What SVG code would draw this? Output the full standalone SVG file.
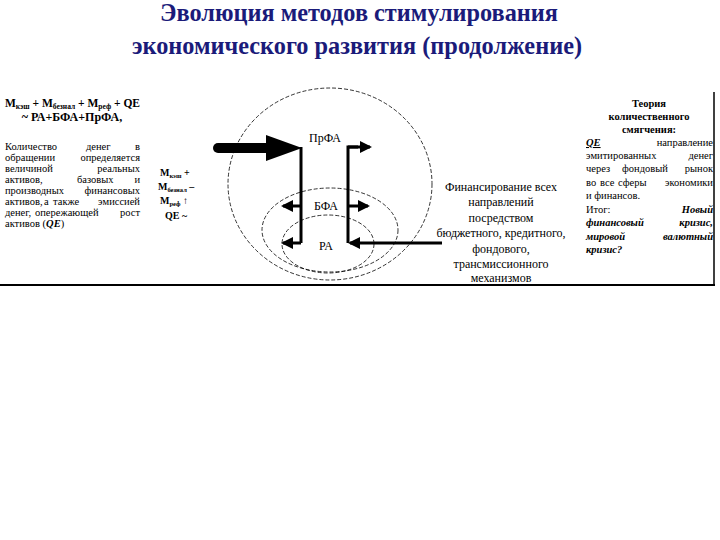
<svg xmlns="http://www.w3.org/2000/svg" width="720" height="540" viewBox="0 0 720 540" font-family="'Liberation Serif', 'Times New Roman', serif">
<defs>
<style>
text{font-family:'Liberation Serif','Times New Roman',serif;fill:#000}
.title{font-weight:bold;font-size:24.3px;fill:#1b1b7a;text-anchor:middle}
.p{font-size:10.5px}
.b{font-weight:bold}
.bi{font-weight:bold;font-style:italic}
.c{text-anchor:middle}
.dash{fill:none;stroke:#000;stroke-width:0.8;stroke-dasharray:4 2}
.ln{fill:none;stroke:#000;stroke-width:3}
.ar{fill:none;stroke:#000;stroke-width:3;marker-end:url(#ah)}
</style>
<marker id="ah" viewBox="0 0 12 12" refX="10" refY="6" markerWidth="12" markerHeight="12" markerUnits="userSpaceOnUse" orient="auto">
<path d="M0,0 L12,6 L0,12 z" fill="#000"/>
</marker>
</defs>
<rect width="720" height="540" fill="#fff"/>

<g id="title">
<text class="title" x="359" y="21">Эволюция методов стимулирования</text>
<text class="title" x="357" y="54">экономического развития (продолжение)</text>
</g>

<g id="frame">
<line x1="0" y1="285" x2="715" y2="285" stroke="#000" stroke-width="2"/>
<line x1="714" y1="92" x2="714" y2="285" stroke="#000" stroke-width="1.5"/>
</g>

<g id="formula">
<text class="b" x="5" y="107" font-size="11.5">M<tspan font-size="7.5" dy="2">кэш</tspan><tspan dy="-2"> + M</tspan><tspan font-size="7.5" dy="2">безнал</tspan><tspan dy="-2"> + M</tspan><tspan font-size="7.5" dy="2">реф</tspan><tspan dy="-2"> + QE</tspan></text>
<text class="b c" x="72" y="121" font-size="12">~ РА+БФА+ПрФА,</text>
</g>

<g id="left-paragraph">
<text class="p" y="150"><tspan x="5">Количество</tspan><tspan x="86">денег</tspan><tspan x="140" text-anchor="end">в</tspan></text>
<text class="p" y="161"><tspan x="5">обращении</tspan><tspan x="140" text-anchor="end">определяется</tspan></text>
<text class="p" y="172"><tspan x="5">величиной</tspan><tspan x="140" text-anchor="end">реальных</tspan></text>
<text class="p" y="183"><tspan x="5">активов,</tspan><tspan x="77">базовых</tspan><tspan x="140" text-anchor="end">и</tspan></text>
<text class="p" y="194"><tspan x="5">производных</tspan><tspan x="140" text-anchor="end">финансовых</tspan></text>
<text class="p" y="205"><tspan x="5">активов,</tspan><tspan x="44">а</tspan><tspan x="53">также</tspan><tspan x="140" text-anchor="end">эмиссией</tspan></text>
<text class="p" y="216"><tspan x="5">денег,</tspan><tspan x="35">опережающей</tspan><tspan x="140" text-anchor="end">рост</tspan></text>
<text class="p" y="227"><tspan x="5">активов (</tspan><tspan class="bi">QE</tspan><tspan>)</tspan></text>
</g>

<g id="money-label">
<text class="b" x="160" y="176" font-size="10">M<tspan font-size="6.5" dy="2">кэш</tspan><tspan dy="-2"> +</tspan></text>
<text class="b" x="158" y="190" font-size="10">M<tspan font-size="6.5" dy="2">безнал</tspan><tspan dy="-2"> –</tspan></text>
<text class="b" x="160" y="204" font-size="10">M<tspan font-size="6.5" dy="2">реф</tspan><tspan dy="-2"> ↑</tspan></text>
<text class="b" x="165" y="219" font-size="10">QE ~</text>
</g>

<g id="circle-PrFA">
<ellipse class="dash" cx="330" cy="184" rx="102" ry="96"/>
<text class="c" x="325" y="142" font-size="12">ПрФА</text>
</g>
<g id="ellipse-BFA">
<ellipse class="dash" cx="330" cy="230" rx="68" ry="42"/>
<text class="c" x="326" y="210" font-size="12">БФА</text>
</g>
<g id="ellipse-RA">
<ellipse class="dash" cx="328" cy="244" rx="46" ry="29"/>
<text class="c" x="326" y="250" font-size="12">РА</text>
</g>

<g id="connectors">
<line x1="218" y1="148" x2="272" y2="148" stroke="#000" stroke-width="10" stroke-linecap="round"/>
<polygon points="266,135 302,148 266,161" fill="#000"/>
<polyline class="ln" points="301,147 301,243"/>
<polyline class="ln" points="348,243 348,147 358,147"/>
<line class="ar" x1="348" y1="147" x2="370" y2="147"/>
<line class="ar" x1="301" y1="206" x2="283" y2="206"/>
<line class="ar" x1="348" y1="206" x2="368" y2="206"/>
<line class="ar" x1="301" y1="243" x2="283" y2="243"/>
<line class="ar" x1="442" y1="243" x2="350" y2="243"/>
</g>

<g id="financing-text">
<text class="c" x="501" y="191" font-size="12">Финансирование всех</text>
<text class="c" x="501" y="206" font-size="12">направлений</text>
<text class="c" x="501" y="222" font-size="12">посредством</text>
<text class="c" x="501" y="237" font-size="12">бюджетного, кредитного,</text>
<text class="c" x="501" y="253" font-size="12">фондового,</text>
<text class="c" x="501" y="268" font-size="12">трансмиссионного</text>
<text class="c" x="501" y="282" font-size="12">механизмов</text>
</g>

<g id="qe-theory">
<text class="b c p" x="649" y="107">Теория</text>
<text class="b c p" x="649" y="120">количественного</text>
<text class="b c p" x="649" y="133">смягчения:</text>
<text class="p" y="146"><tspan x="586" class="bi" text-decoration="underline">QE</tspan><tspan x="713" text-anchor="end">направление</tspan></text>
<text class="p" y="159"><tspan x="586">эмитированных</tspan><tspan x="713" text-anchor="end">денег</tspan></text>
<text class="p" y="172"><tspan x="586">через</tspan><tspan x="622">фондовый</tspan><tspan x="713" text-anchor="end">рынок</tspan></text>
<text class="p" y="186"><tspan x="586">во</tspan><tspan x="600">все</tspan><tspan x="618">сферы</tspan><tspan x="713" text-anchor="end">экономики</tspan></text>
<text class="p" y="199" x="586">и финансов.</text>
<text class="p" y="213"><tspan x="586">Итог:</tspan><tspan x="713" text-anchor="end" class="bi">Новый</tspan></text>
<text class="p bi" y="226"><tspan x="586">финансовый</tspan><tspan x="713" text-anchor="end">кризис,</tspan></text>
<text class="p bi" y="240"><tspan x="586">мировой</tspan><tspan x="713" text-anchor="end">валютный</tspan></text>
<text class="p bi" y="253" x="586">кризис?</text>
</g>
</svg>
